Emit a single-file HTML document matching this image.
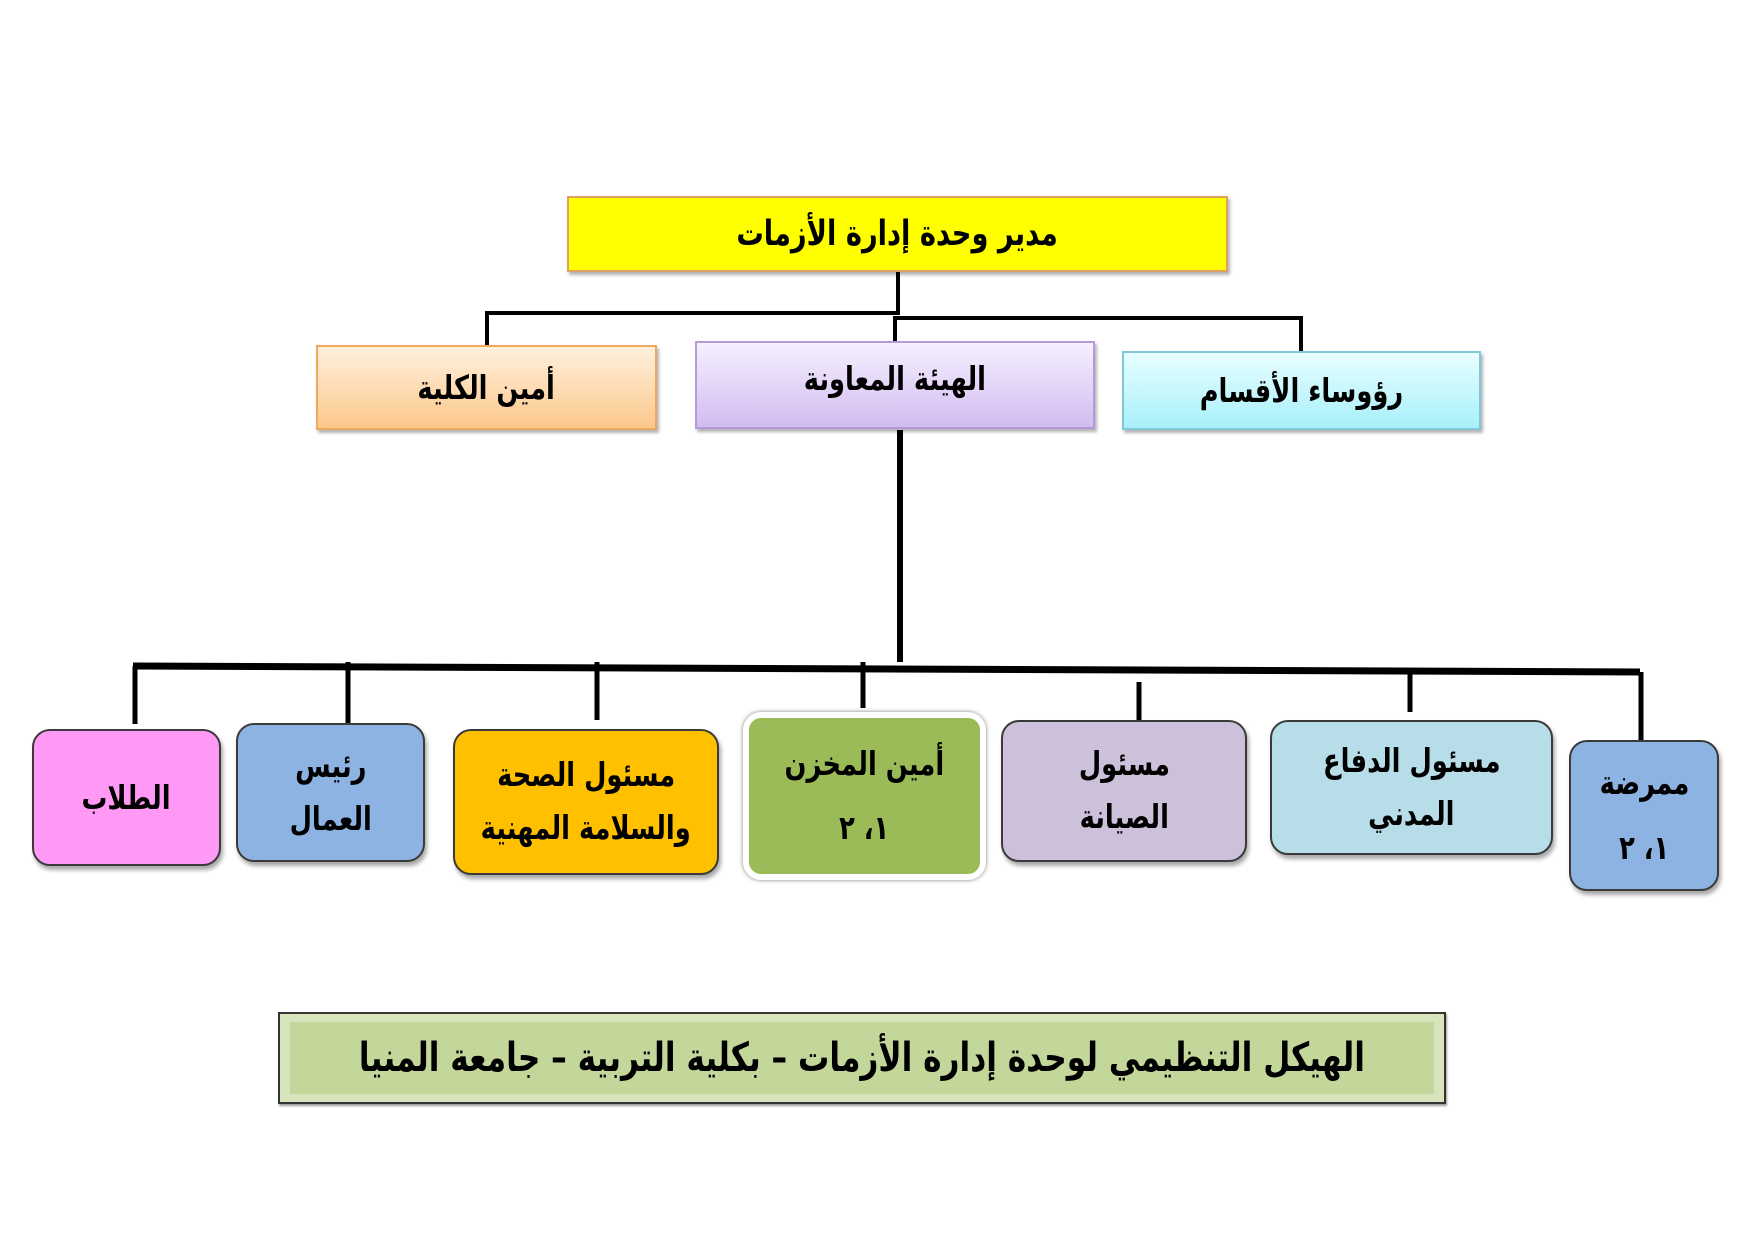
<!DOCTYPE html>
<html><head><meta charset="utf-8"><style>
body{margin:0;width:1755px;height:1241px;background:#fff;position:relative;overflow:hidden;font-family:"DejaVu Sans","Liberation Sans",sans-serif;}
.b{position:absolute;display:flex;flex-direction:column;align-items:center;justify-content:center;text-align:center;font-weight:bold;color:#000;direction:rtl;box-sizing:border-box;font-size:33px;line-height:1.45;}
.b span{display:inline-block;transform:scaleX(0.78);white-space:nowrap}
.r{border-radius:18px;border:2px solid #3a3a3a;box-shadow:2px 4px 4px rgba(0,0,0,0.35);}
</style></head><body>
<svg width="1755" height="1241" style="position:absolute;left:0;top:0">
<g stroke="#000" stroke-width="4" fill="none">
<line x1="898" y1="272" x2="898" y2="315"/>
<polyline points="487,345 487,313 898,313"/>
<polyline points="895,341 895,318 1301,318 1301,351"/>
<line x1="900" y1="430" x2="900" y2="662" stroke-width="6"/>
<line x1="133" y1="666" x2="1640" y2="672" stroke-width="7"/>
<line x1="135" y1="666" x2="135" y2="724" stroke-width="5"/>
<line x1="348" y1="662" x2="348" y2="724" stroke-width="5"/>
<line x1="597" y1="662" x2="597" y2="720" stroke-width="5"/>
<line x1="863" y1="662" x2="863" y2="708" stroke-width="5"/>
<line x1="1139" y1="682" x2="1139" y2="720" stroke-width="5"/>
<line x1="1410" y1="671" x2="1410" y2="712" stroke-width="5"/>
<line x1="1641" y1="672" x2="1641" y2="740" stroke-width="5"/>
</g></svg>
<div class="b" style="left:567px;top:196px;width:661px;height:76px;background:#ffff00;border:2px solid #e0a060;box-shadow:2px 3px 3px rgba(0,0,0,0.3);font-size:35px"><span>مدير وحدة إدارة الأزمات</span></div>
<div class="b" style="left:316px;top:345px;width:341px;height:85px;background:linear-gradient(#fff0dc,#fcc88c);border:2px solid #f0a860;box-shadow:2px 3px 3px rgba(0,0,0,0.3)"><span>أمين الكلية</span></div>
<div class="b" style="left:695px;top:341px;width:400px;height:88px;background:linear-gradient(#f6f0ff,#d2bcf0);border:2px solid #b49ad8;box-shadow:2px 3px 3px rgba(0,0,0,0.3);justify-content:flex-start;padding-top:12px"><span>الهيئة المعاونة</span></div>
<div class="b" style="left:1122px;top:351px;width:359px;height:79px;background:linear-gradient(#e8ffff,#a8f0fa);border:2px solid #80c8d8;box-shadow:2px 3px 3px rgba(0,0,0,0.3)"><span>رؤوساء الأقسام</span></div>

<div class="b r" style="left:32px;top:729px;width:189px;height:137px;background:#ff99f5"><span>الطلاب</span></div>
<div class="b r" style="left:236px;top:723px;width:189px;height:139px;background:#8db3e2;line-height:1.6"><span>رئيس</span><span>العمال</span></div>
<div class="b r" style="left:453px;top:729px;width:266px;height:146px;background:#ffc000;line-height:1.6"><span>مسئول الصحة</span><span>والسلامة المهنية</span></div>
<div class="b r" style="left:743px;top:712px;width:243px;height:168px;background:#9bbb59;border:6px solid #fff;box-shadow:0 0 4px rgba(0,0,0,0.5);line-height:1.95"><span>أمين المخزن</span><span>١، ٢</span></div>
<div class="b r" style="left:1001px;top:720px;width:246px;height:142px;background:#ccc0da;line-height:1.6"><span>مسئول</span><span>الصيانة</span></div>
<div class="b r" style="left:1270px;top:720px;width:283px;height:135px;background:#b7dde8;line-height:1.6"><span>مسئول الدفاع</span><span>المدني</span></div>
<div class="b r" style="left:1569px;top:740px;width:150px;height:151px;background:#8db3e2;line-height:1.95"><span>ممرضة</span><span>١، ٢</span></div>

<div style="position:absolute;left:278px;top:1012px;width:1168px;height:92px;background:#d8e4bc;border:2px solid #333;box-sizing:border-box;box-shadow:1px 2px 2px rgba(0,0,0,0.4)">
<div class="b" style="left:10px;top:8px;right:10px;bottom:8px;background:#c4d79b;font-size:40px"><span>الهيكل التنظيمي لوحدة إدارة الأزمات – بكلية التربية – جامعة المنيا</span></div>
</div>
</body></html>
